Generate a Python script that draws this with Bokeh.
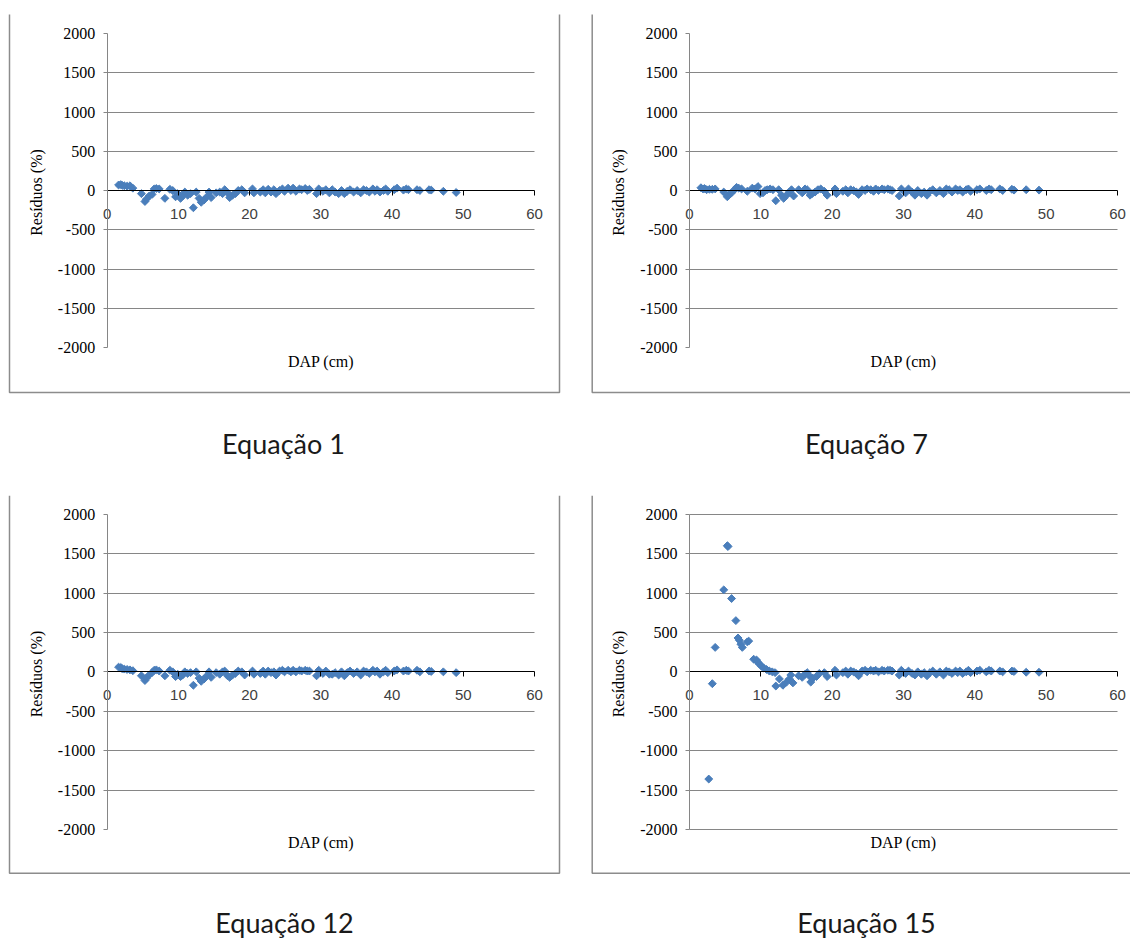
from bokeh.plotting import figure
from bokeh.models import LinearAxis, FixedTicker, Label, Grid, CustomJSTickFormatter, Range1d
from bokeh.layouts import column, row
from bokeh.embed import file_html
from bokeh.resources import INLINE

# ---------------- data ----------------
dap = [1.6, 1.9, 2.1, 2.4, 2.8, 3.2, 3.6, 4.8, 5.3, 5.5, 5.9, 6.3, 6.6, 6.9, 7.3, 8.1, 8.8, 9.2, 9.6, 9.9,
       10.3, 10.6, 10.9, 11.3, 11.7, 12.1, 12.5, 12.9, 13.2, 13.6, 14.0, 14.3, 14.6, 15.3, 15.8, 16.2, 16.5, 16.9, 17.2, 17.6,
       18.0, 18.4, 18.9, 19.3, 20.4, 20.6, 21.5, 21.9, 22.2, 22.6, 23.0, 23.4, 23.7, 24.2, 24.6, 24.9, 25.4, 25.8, 26.1, 26.5,
       27.0, 27.3, 27.8, 28.1, 28.4, 29.4, 29.7, 30.3, 30.7, 31.2, 31.6, 32.0, 32.5, 32.9, 33.3, 33.7, 34.1, 34.6, 35.1, 35.6,
       36.0, 36.4, 36.8, 37.3, 37.6, 37.9, 38.3, 38.8, 39.1, 39.4, 40.3, 40.7, 41.6, 42.0, 42.3, 43.5, 43.9, 45.2, 45.5, 47.2,
       49.0]

res_eq1 = [70, 75, 65, 60, 55, 60, 30, -40, -140, -110, -70, -50, 20, 25, 20, -100, 15, 0, -80, -40,
           -100, -70, -20, -60, -40, -220, -20, -100, -150, -120, -80, -20, -90, -30, -20, -40, 10, -30, -90, -60,
           -40, 0, 10, -30, 20, -30, -20, 10, -30, 15, -20, 10, -40, 0, 20, -10, 30, 0, 30, -10,
           20, 10, 25, 0, 15, -40, 20, -10, 10, -30, 10, -20, -40, 0, -40, -10, 10, -20, 0, -30,
           10, 0, -20, 20, -10, 10, -20, 0, 20, -10, 10, 30, 5, 20, 10, 10, 0, 10, 5, -10,
           -25]

res_eq7 = [35, 20, 25, 10, 15, 15, 20, -20, -80, -60, -30, 10, 40, 30, 20, -10, 30, 20, 50, -40,
           -30, 0, 10, 20, 10, -130, 10, -60, -100, -60, -20, 10, -70, 10, -30, 20, 10, -60, -40, -20,
           10, 20, -10, -60, 20, -40, -10, 10, -30, 10, 0, -20, -50, 10, 0, 20, 10, -10, 20, 0,
           20, 10, 20, 10, 0, -70, 20, -30, 20, -20, -60, 0, -40, -20, -60, -10, 10, -30, 0, -40,
           20, 10, -20, 20, 0, 10, -20, 10, 20, -10, 10, 20, 0, 20, 10, 20, 0, 15, 5, 10,
           5]

res_eq12 = [60, 55, 40, 35, 30, 25, 15, -50, -110, -80, -40, -10, 20, 25, 10, -50, 20, 0, -60, -30,
            -60, -40, 0, -20, -10, -170, 0, -80, -120, -90, -50, 0, -70, -10, -30, 0, 10, -50, -70, -40,
            -20, 10, 0, -40, 10, -30, -20, 10, -30, 10, -10, 0, -40, 10, 20, 0, 20, 0, 20, 0,
            20, 10, 20, 10, 10, -50, 20, -20, 10, -30, -30, -10, -40, 0, -50, -10, 10, -20, 0, -40,
            10, 0, -20, 20, 0, 10, -30, 0, 20, -10, 10, 25, 10, 20, 10, 20, 0, 10, 5, 0,
            -10]

dap_eq15 = [2.7, 3.2, 3.6, 4.8, 5.3, 5.4, 5.9, 6.5, 6.8, 7.0, 7.2, 7.4, 8.1, 8.3, 9.0, 9.4, 9.6, 9.8, 10.1, 10.4,
            10.8, 11.2, 11.6, 12.0, 12.1, 12.6, 13.1, 13.6, 14.0, 14.2, 14.5, 15.3, 15.8, 16.2, 16.5, 16.9, 17.0, 17.3, 17.8, 18.2,
            18.9, 19.3, 20.4, 20.6, 21.5, 21.9, 22.2, 22.6, 23.0, 23.4, 23.7, 24.2, 24.6, 24.9, 25.4, 25.8, 26.1, 26.5, 27.0, 27.3,
            27.8, 28.1, 28.4, 29.4, 29.7, 30.3, 30.7, 31.2, 31.6, 32.0, 32.5, 32.9, 33.3, 33.7, 34.1, 34.6, 35.1, 35.6, 36.0, 36.4,
            36.8, 37.3, 37.6, 37.9, 38.3, 38.8, 39.1, 39.4, 40.3, 40.7, 41.6, 42.0, 42.3, 43.5, 43.9, 45.2, 45.5, 47.2, 49.0]

res_eq15 = [-1360, -150, 310, 1040, 1600, 1590, 930, 650, 430, 400, 350, 310, 380, 390, 160, 150, 120, 100, 70, 50,
            30, 10, 0, -10, -180, -90, -170, -130, -90, -40, -140, -50, -70, -30, -10, -60, -130, -80, -60, -20,
            -10, -60, 20, -40, -10, 10, -30, 10, 0, -20, -50, 10, 20, 0, 20, 10, 20, 0, 20, 10,
            20, 20, 10, -40, 20, -20, 10, -20, -40, 0, -30, -10, -50, -10, 10, -30, 0, -40, 10, 0,
            -20, 10, -10, 10, -20, 0, 20, -10, 10, 20, 0, 20, 10, 10, 0, 10, 5, -5, -5]

captions = ["Equação 1", "Equação 7", "Equação 12", "Equação 15"]
x_ticks = [0, 10, 20, 30, 40, 50, 60]
y_ticks = [-2000, -1500, -1000, -500, 0, 500, 1000, 1500, 2000]

MARKER = "#4a7ebb"
GRID = "#868686"
BORDER = "#8c8c8c"
SERIF = "Liberation Serif"


def make_panel(xs, ys, caption, fig_box, axis_px, border_px, cap_px, dap_px, grid_ticks, open_right):
    """fig_box: (page_x, page_y, w, h); axis_px: page pixels of x=0, x=60, y=2000, y=-2000."""
    fx, fy, W, H = fig_box
    ax0, ax60, ay_top, ay_bot = axis_px
    kx = (ax60 - ax0) / 60.0
    ky = (ay_bot - ay_top) / 4000.0
    ay0 = (ay_top + ay_bot) / 2.0

    def dx(px):
        return (px - ax0) / kx

    def dy(py):
        return (ay0 - py) / ky

    p = figure(width=W, height=H,
               x_range=Range1d(dx(fx), dx(fx + W)), y_range=Range1d(dy(fy + H), dy(fy)),
               output_backend="svg", toolbar_location=None,
               x_axis_location=None, y_axis_location=None,
               min_border=0, min_border_left=0, min_border_right=0,
               min_border_top=0, min_border_bottom=0)
    p.outline_line_color = None
    p.background_fill_color = "white"
    p.border_fill_color = "white"
    p.xgrid.visible = False
    p.ygrid.visible = False

    # horizontal gridlines limited to the plotting area 0..60
    if "cross_bounds" in Grid.properties():
        p.add_layout(Grid(dimension=1, ticker=FixedTicker(ticks=grid_ticks), cross_bounds=(0, 60),
                          grid_line_color=GRID, grid_line_width=1))
    else:
        p.segment(x0=[0] * len(grid_ticks), x1=[60] * len(grid_ticks), y0=grid_ticks, y1=grid_ticks,
                  line_color=GRID, line_width=1)

    fmt = CustomJSTickFormatter(code="return tick.toString();")

    ya = LinearAxis(fixed_location=0, ticker=FixedTicker(ticks=y_ticks), bounds=(-2000, 2000), formatter=fmt)
    ya.axis_line_color = GRID
    ya.major_tick_line_color = GRID
    ya.major_tick_out = 4
    ya.major_tick_in = 0
    ya.minor_tick_line_color = None
    ya.major_label_text_font = SERIF
    ya.major_label_text_font_size = "16px"
    ya.major_label_text_color = "black"
    ya.major_label_standoff = 8
    ya.axis_label = "Resíduos  (%)"
    ya.axis_label_text_font = SERIF
    ya.axis_label_text_font_size = "16px"
    ya.axis_label_text_font_style = "normal"
    ya.axis_label_text_color = "black"
    ya.axis_label_standoff = 10
    p.add_layout(ya, "left")

    xa = LinearAxis(fixed_location=0, ticker=FixedTicker(ticks=x_ticks), bounds=(0, 60), formatter=fmt)
    xa.axis_line_color = "black"
    xa.major_tick_line_color = "black"
    xa.major_tick_out = 5
    xa.major_tick_in = 0
    xa.minor_tick_line_color = None
    xa.major_label_text_font = "Liberation Sans"
    xa.major_label_text_font_size = "15px"
    xa.major_label_text_color = "#404040"
    xa.major_label_standoff = 13
    p.add_layout(xa, "below")

    # chart border (left, bottom, right sides)
    bl, bt, br, bb = border_px
    if open_right:
        p.line([dx(bl), dx(bl), dx(br)], [dy(bt), dy(bb), dy(bb)], line_color=BORDER, line_width=1.5)
    else:
        p.line([dx(bl), dx(bl), dx(br), dx(br)], [dy(bt), dy(bb), dy(bb), dy(bt)],
               line_color=BORDER, line_width=1.5)

    p.scatter(xs, ys, marker="square", angle=0.7854, size=5.6,
              fill_color=MARKER, line_color=MARKER)

    p.add_layout(Label(x=dx(dap_px[0]), y=dy(dap_px[1]), text="DAP (cm)", text_font=SERIF,
                       text_font_size="16px", text_color="black",
                       text_align="center", text_baseline="middle"))
    p.add_layout(Label(x=dx(cap_px[0]), y=dy(cap_px[1]), text=caption, text_font="Lato",
                       text_font_size="27px", text_color="#1a1a1a",
                       text_align="center", text_baseline="middle"))
    return p


grid_inner = [-1500, -1000, -500, 500, 1000, 1500]
grid_full = [-2000, -1500, -1000, -500, 500, 1000, 1500, 2000]

p1 = make_panel(dap, res_eq1, captions[0], (0, 0, 565, 495), (106.7, 534.0, 33.0, 347.0),
                (9, 14, 559, 392), (283, 443), (320.5, 361), grid_inner, False)
p2 = make_panel(dap, res_eq7, captions[1], (565, 0, 565, 495), (689.0, 1117.0, 33.0, 347.0),
                (591.7, 14, 1140, 392), (866, 443), (903, 361), grid_inner, True)
p3 = make_panel(dap, res_eq12, captions[2], (0, 495, 565, 444), (106.7, 534.0, 513.7, 829.0),
                (9, 495, 559, 872.7), (284, 922), (320.5, 842), grid_inner, False)
p4 = make_panel(dap_eq15, res_eq15, captions[3], (565, 495, 565, 444), (689.0, 1117.0, 513.7, 829.0),
                (591.7, 495, 1140, 872.7), (866, 922), (903, 842), grid_full, True)

layout = column(row(p1, p2), row(p3, p4))
open("out.html", "w").write(file_html(layout, INLINE))
